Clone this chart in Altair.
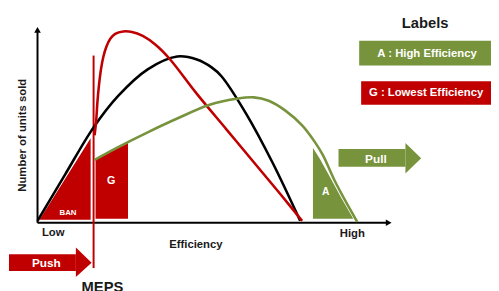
import altair as alt
import pandas as pd

RED = "#C00000"
GREEN = "#77933C"
DARK = "#1a1a1a"

# ---- curves (efficiency position -> units sold, in chart pixel units) ----
black_x = [38, 66, 95, 120, 150, 180, 200, 215, 225, 250, 277, 305]
black_y = [222, 175, 127, 95, 68, 55, 58, 66, 75, 113, 163, 222]

red_x = [96, 97.5, 99, 100.5, 102.5, 105, 108, 112, 117, 125, 134, 145, 158, 172, 200, 230, 260, 285, 307]
red_y = [135, 122, 100, 84, 68, 55, 45, 37, 32, 29.5, 30, 34, 43, 57, 93, 129, 165, 195, 222]

green_x = [96, 120, 150, 180, 213, 240, 258, 273, 290, 307, 320, 328, 340, 350, 363]
green_y = [160, 147, 132, 118, 104, 98, 96.5, 100, 110, 125, 142, 155, 181, 200, 223]

# ---- filled regions ----
ban_x = [40, 92]
ban_y = [221, 138]
ban_y2 = [221, 221]

g_x = [97, 130]
g_y = [160, 143]
g_y2 = [220, 220]

a_x = [318, 325, 335, 347, 359]
a_y = [148, 159, 177, 199, 220]
a_y2 = [220, 220, 220, 220, 220]

# arrow heads (triangles)
pull_head_x = [412, 428]
pull_head_y = [143, 158.5]
pull_head_y2 = [174, 158.5]
push_head_x = [77, 93]
push_head_y = [249, 264.5]
push_head_y2 = [279, 264.5]

# ---- rectangles: arrow bodies and legend boxes ----
rect_name = ["pull", "push", "boxA", "boxG"]
rect_x = [344, 9, 365, 367]
rect_x2 = [412, 77, 499, 499]
rect_y = [149, 256, 39, 80]
rect_y2 = [167, 273, 64, 104]
rect_col = [GREEN, RED, GREEN, RED]

# ---- texts ----
txt = ["Labels", "A : High Efficiency", "G : Lowest Efficiency", "Pull", "Push",
       "G", "BAN", "A", "Low", "Efficiency", "High", "Number of units sold", "MEPS"]
txt_x = [432, 434, 433, 382, 47, 113, 69, 331, 54, 199, 358, 23, 104]
txt_y = [21, 52, 92, 159, 264.5, 182, 214, 193, 234, 247, 235, 135, 282]
txt_size = [15, 11.5, 11.5, 12, 12, 11, 8, 10.5, 11.5, 11.5, 11.5, 11.5, 15]
txt_col = [DARK, "white", "white", "white", "white", "white", "white", "white",
           DARK, DARK, DARK, DARK, DARK]
txt_angle = [0, 0, 0, 0, 0, 0, 0, 0, 0, 0, 0, 270, 0]
txt_base = ["middle"] * 12 + ["top"]

XS = alt.Scale(domain=[8, 499])
YS = alt.Scale(domain=[291, 8])


def X(f):
    return alt.X(f + ":Q", scale=XS, axis=None)


def Y(f):
    return alt.Y(f + ":Q", scale=YS, axis=None)


# line data
rows = []
for name, xs, ys, c in [("black", black_x, black_y, "#000000"),
                        ("red", red_x, red_y, RED),
                        ("green", green_x, green_y, GREEN)]:
    for i, (a, b) in enumerate(zip(xs, ys)):
        rows.append({"s": name, "x": a, "y": b, "c": c, "o": i})
lines_df = pd.DataFrame(rows)

area_layers = []
for xs, ys, y2s, c in [(ban_x, ban_y, ban_y2, RED),
                       (g_x, g_y, g_y2, RED),
                       (a_x, a_y, a_y2, GREEN),
                       (pull_head_x, pull_head_y, pull_head_y2, GREEN),
                       (push_head_x, push_head_y, push_head_y2, RED)]:
    df = pd.DataFrame({"x": xs, "y": ys, "y2": y2s})
    area_layers.append(
        alt.Chart(df).mark_area(color=c, opacity=1, interpolate="linear").encode(
            x=X("x"), y=Y("y"), y2="y2:Q"))

rect_df = pd.DataFrame({"n": rect_name, "x": rect_x, "x2": rect_x2,
                        "y": rect_y, "y2": rect_y2, "c": rect_col})

rule_df = pd.DataFrame({
    "n": ["yaxis", "xaxis", "meps"],
    "x": [38, 38, 95], "x2": [38, 394, 95],
    "y": [224, 224, 54], "y2": [29, 224, 270],
    "c": ["#000000", "#000000", RED],
})

head_df = pd.DataFrame({"x": [38, 395], "y": [28, 224],
                        "shape": ["triangle-up", "triangle-right"]})

text_df = pd.DataFrame({"t": txt, "x": txt_x, "y": txt_y, "s": txt_size,
                        "c": txt_col, "a": txt_angle, "b": txt_base})

rects = alt.Chart(rect_df).mark_rect().encode(
    x=X("x"), x2="x2:Q", y=Y("y"), y2="y2:Q",
    color=alt.Color("c:N", scale=None))

rules = alt.Chart(rule_df).mark_rule(strokeWidth=2).encode(
    x=X("x"), x2="x2:Q", y=Y("y"), y2="y2:Q",
    color=alt.Color("c:N", scale=None))

heads = alt.Chart(head_df).mark_point(filled=True, size=45, color="#000000", opacity=1).encode(
    x=X("x"), y=Y("y"), shape=alt.Shape("shape:N", scale=None))

curves = alt.Chart(lines_df).mark_line(strokeWidth=2.6, interpolate="catmull-rom").encode(
    x=X("x"), y=Y("y"),
    color=alt.Color("c:N", scale=None),
    detail="s:N", order="o:Q")

texts_mid = alt.Chart(text_df).transform_filter(alt.datum.b == "middle").mark_text(
    font="Liberation Sans", fontWeight="bold", baseline="middle", align="center").encode(
    x=X("x"), y=Y("y"), text="t:N",
    size=alt.Size("s:Q", scale=None),
    color=alt.Color("c:N", scale=None),
    angle=alt.Angle("a:Q", scale=None))

texts_top = alt.Chart(text_df).transform_filter(alt.datum.b == "top").mark_text(
    font="Liberation Sans", fontWeight="bold", baseline="top", align="center").encode(
    x=X("x"), y=Y("y"), text="t:N",
    size=alt.Size("s:Q", scale=None),
    color=alt.Color("c:N", scale=None))

chart = alt.layer(*area_layers, rects, rules, heads, curves, texts_mid, texts_top).properties(
    width=491, height=283, padding=0, autosize=alt.AutoSizeParams(type="none"),
    background="white"
).configure_view(stroke=None)

chart.save("out.html", embed_options={"renderer": "svg", "actions": False})
